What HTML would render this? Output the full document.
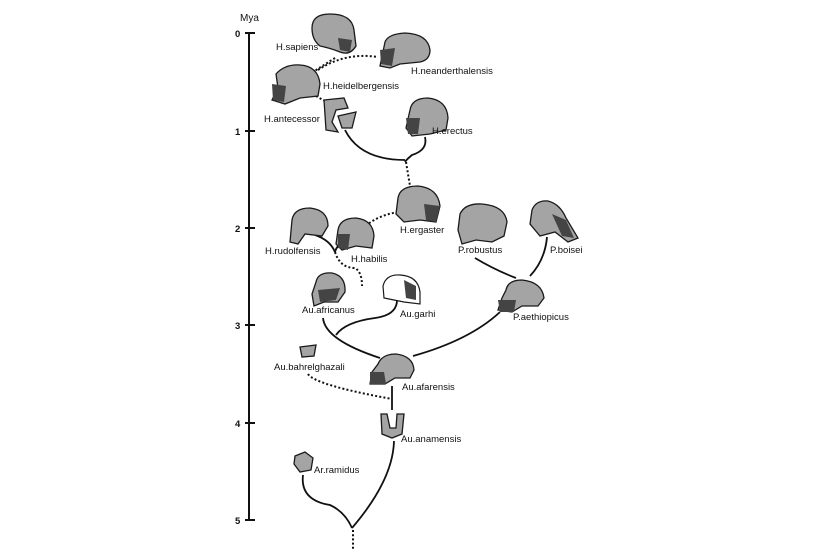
<!DOCTYPE html>
<html><head><meta charset="utf-8"><style>
html,body{margin:0;padding:0;background:#fff;}
svg{display:block}
text{font-family:"Liberation Sans",Arial,sans-serif;font-size:9.5px;fill:#111}
.sk{fill:#a4a4a4;stroke:#1a1a1a;stroke-width:1.3}
.sh{fill:#444;stroke:none}
.l{fill:none;stroke:#111;stroke-width:1.8}
.d{fill:none;stroke:#111;stroke-width:2;stroke-dasharray:2 2.2}
</style></head><body>
<svg width="814" height="556" viewBox="0 0 814 556" xmlns="http://www.w3.org/2000/svg">
<line x1="249" y1="33" x2="249" y2="521" stroke="#111" stroke-width="2"/>
<g stroke="#111" stroke-width="2">
<line x1="245" y1="33" x2="255" y2="33"/><line x1="245" y1="131" x2="255" y2="131"/>
<line x1="245" y1="228" x2="255" y2="228"/><line x1="245" y1="325" x2="255" y2="325"/>
<line x1="245" y1="423" x2="255" y2="423"/><line x1="245" y1="520" x2="255" y2="520"/>
</g>
<text x="240" y="21" style="font-size:10px">Mya</text>
<g style="font-weight:bold">
<text x="235" y="37">0</text><text x="235" y="135">1</text><text x="235" y="232">2</text>
<text x="235" y="329">3</text><text x="235" y="427">4</text><text x="235" y="524">5</text>
</g>

<path class="d" d="M335,58 L313,72"/>
<path class="d" d="M318,70 Q345,52 378,57"/>
<path class="d" d="M316,96 L330,104"/>
<path class="l" d="M345,130 Q360,160 405,160"/>
<path class="l" d="M425,137 Q428,150 412,155 Q406,160 405,162"/>
<path class="d" d="M406,162 L410,186"/>
<path class="d" d="M398,212 Q380,215 368,224"/>
<path class="l" d="M315,235 Q330,240 335,252"/>
<path class="l" d="M347,240 Q337,244 335,252"/>
<path class="d" d="M335,252 Q340,268 355,268 Q362,272 362,286"/>
<path class="l" d="M323,318 Q325,340 380,358"/>
<path class="l" d="M397,300 Q397,315 375,318 Q345,322 336,335"/>
<path class="l" d="M500,312 Q470,340 413,356"/>
<path class="l" d="M475,258 Q495,270 516,278"/>
<path class="l" d="M547,237 Q545,260 530,276"/>
<path class="d" d="M308,374 Q315,385 392,399"/>
<path class="l" d="M392,386 L392,410"/>
<path class="l" d="M394,441 Q393,480 352,528"/>
<path class="l" d="M303,475 Q300,500 330,505 Q345,512 352,528"/>
<path class="d" d="M353,530 L353,549"/>

<g>
<path class="sk" d="M312,28 Q312,14 330,14 Q352,14 354,30 L356,46 Q350,56 340,52 Q330,48 320,46 Q312,40 312,28Z"/>
<path class="sh" d="M338,38 L352,40 L350,52 L340,50Z"/>
<path class="sk" d="M385,42 Q388,34 405,33 Q428,34 430,50 Q430,60 420,62 L400,64 L390,68 L380,66 Z"/>
<path class="sh" d="M380,50 L395,48 L392,66 L381,64Z"/>
<path class="sk" d="M276,74 Q285,64 300,65 Q318,66 320,84 L318,96 L300,98 L285,104 L272,100 L278,88 Z"/>
<path class="sh" d="M272,84 L286,86 L284,102 L273,100Z"/>
<path class="sk" d="M324,100 L344,98 L348,108 L336,110 L332,122 L338,132 L326,130 Z"/>
<path class="sk" d="M338,116 L356,112 L352,128 L342,128Z"/>
<path class="sk" d="M410,110 Q412,98 428,98 Q447,100 448,118 L446,130 L430,134 L412,136 L406,128 Z"/>
<path class="sh" d="M406,118 L420,118 L418,134 L408,134Z"/>
<path class="sk" d="M398,198 Q400,186 418,186 Q438,188 440,206 L436,222 L420,220 L404,222 L396,214 Z"/>
<path class="sh" d="M424,204 L440,206 L436,222 L426,220Z"/>
<path class="sk" d="M292,220 Q294,208 310,208 Q328,210 328,226 L322,236 L305,234 L298,244 L290,242 Z"/>
<path class="sk" d="M338,230 Q340,218 356,218 Q373,220 374,236 L372,248 L356,246 L342,250 L336,244 Z"/>
<path class="sh" d="M338,234 L350,234 L348,250 L338,248Z"/>
<path class="sk" d="M460,214 Q465,203 482,204 Q505,206 507,222 L504,236 L492,242 L476,240 L462,244 L458,230 Z"/>
<path class="sk" d="M532,210 Q536,200 548,201 Q560,204 566,218 L578,238 L568,242 L555,232 L540,236 L530,224 Z"/>
<path class="sh" d="M552,214 L566,220 L574,238 L562,236Z"/>
<path class="sk" d="M506,290 Q508,280 522,280 Q542,282 544,298 L538,306 L522,306 L512,312 L498,310 L502,298 Z"/>
<path class="sh" d="M498,300 L516,300 L514,312 L500,312Z"/>
<path class="sk" d="M316,282 Q318,272 332,273 Q346,276 345,292 L338,302 L324,302 L314,306 L312,294 Z"/>
<path class="sh" d="M318,290 L340,288 L336,300 L320,302Z"/>
<path fill="#fff" stroke="#1a1a1a" stroke-width="1.2" d="M383,286 Q386,274 400,275 Q418,276 420,292 L420,304 L404,302 L394,300 L384,298 Z"/>
<path class="sh" d="M404,280 L416,286 L416,300 L406,298Z"/>
<path class="sk" d="M300,347 L316,345 L314,356 L302,357 Z"/>
<path class="sk" d="M378,364 Q382,354 396,354 Q413,356 414,370 L410,378 L395,378 L385,384 L370,384 L372,372 Z"/>
<path class="sh" d="M370,372 L384,372 L386,384 L370,384Z"/>
<path class="sk" d="M381,414 L387,414 L390,428 L396,428 L397,414 L404,414 L402,434 L392,438 L382,434 Z"/>
<path class="sk" d="M295,456 L305,452 L313,458 L311,470 L300,472 L294,464 Z"/>
</g>

<text x="276" y="50">H.sapiens</text>
<text x="411" y="74">H.neanderthalensis</text>
<text x="323" y="89">H.heidelbergensis</text>
<text x="264" y="122">H.antecessor</text>
<text x="432" y="134">H.erectus</text>
<text x="400" y="233">H.ergaster</text>
<text x="265" y="254">H.rudolfensis</text>
<text x="351" y="262">H.habilis</text>
<text x="458" y="253">P.robustus</text>
<text x="550" y="253">P.boisei</text>
<text x="302" y="313">Au.africanus</text>
<text x="400" y="317">Au.garhi</text>
<text x="513" y="320">P.aethiopicus</text>
<text x="274" y="370">Au.bahrelghazali</text>
<text x="402" y="390">Au.afarensis</text>
<text x="401" y="442">Au.anamensis</text>
<text x="314" y="473">Ar.ramidus</text>
</svg>
</body></html>
